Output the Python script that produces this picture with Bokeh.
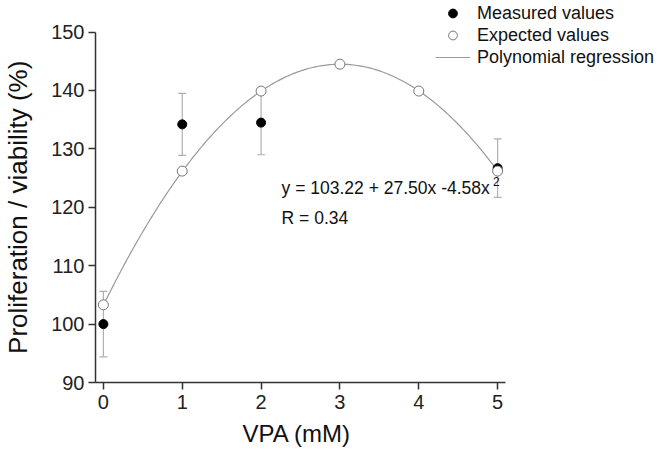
import math
import numpy as np
from bokeh.plotting import figure
from bokeh.models import (ColumnDataSource, Range1d, Whisker, TeeHead, Legend,
                          LegendItem, Label, FixedTicker, Title)
from bokeh.embed import file_html
from bokeh.resources import INLINE

# ---- data ----
measured_x = [0, 1, 2, 5]
measured_y = [100.0, 134.2, 134.5, 126.7]
measured_err = [5.6, 5.3, 5.5, 5.0]

expected_x = [0, 1, 2, 3, 4, 5]
expected_y = [103.3, 126.2, 139.9, 144.5, 139.9, 126.2]

# regression coefficients printed on the chart: y = a + b x + c x^2
reg_coef = [103.22, 27.50, -4.58]
reg_r = 0.34

x_ticks = [0, 1, 2, 3, 4, 5]
y_ticks = [90, 100, 110, 120, 130, 140, 150]
x_axis_bounds = (-0.1, 5.1)
y_axis_bounds = (90, 150)
x_label = "VPA (mM)"
y_label = "Proliferation / viability (%)"

FONT = "Liberation Sans"

# frame spans to the right/top edge so the legend (drawn inside the frame) is not clipped;
# the axis lines are limited with `bounds`
p = figure(width=656, height=456, output_backend="svg", toolbar_location=None,
           x_range=Range1d(-0.1, 7.015), y_range=Range1d(90, 155.41),
           frame_width=561, frame_height=382,
           min_border_left=95, min_border_right=0, min_border_top=0,
           min_border_bottom=70)
p.outline_line_color = None
p.grid.visible = False
p.background_fill_color = "white"

# axes
for ax in (p.xaxis[0], p.yaxis[0]):
    ax.axis_line_width = 1.5
    ax.axis_line_color = "#333333"
    ax.major_tick_line_color = "#333333"
    ax.major_tick_line_width = 1.5
    ax.major_tick_out = 7
    ax.major_tick_in = 0
    ax.minor_tick_line_color = None
    ax.major_label_text_font = FONT
    ax.major_label_text_font_size = "20px"
    ax.major_label_text_color = "#222222"

p.xaxis.bounds = x_axis_bounds
p.yaxis.bounds = y_axis_bounds
p.xaxis.ticker = FixedTicker(ticks=x_ticks)
p.yaxis.ticker = FixedTicker(ticks=y_ticks)
p.xaxis.major_label_standoff = 5
p.yaxis.major_label_standoff = 4

# axis titles centred on the drawn axis lines
xt = Title(text=x_label, align="left", offset=147, standoff=12,
           text_font=FONT, text_font_size="24px", text_font_style="normal",
           text_color="#111111")
p.add_layout(xt, "below")

yt = Label(x=-1, y=sum(y_axis_bounds) / 2, x_units="screen", y_units="data",
           text=y_label, angle=math.pi / 2, text_align="center",
           text_baseline="middle", text_font=FONT, text_font_size="26px",
           text_color="#111111")
p.add_layout(yt, "left")

# regression curve from printed coefficients
xs = np.linspace(0, 5, 201)
ys = reg_coef[0] + reg_coef[1] * xs + reg_coef[2] * xs ** 2
reg = p.line(xs, ys, line_color="#9a9a9a", line_width=1.2)

# error bars for measured values
src_m = ColumnDataSource(dict(
    x=measured_x, y=measured_y,
    upper=[v + e for v, e in zip(measured_y, measured_err)],
    lower=[v - e for v, e in zip(measured_y, measured_err)]))
wh = Whisker(base="x", upper="upper", lower="lower", source=src_m,
             line_color="#b0b0b0", line_width=1.2,
             upper_head=TeeHead(size=8, line_color="#b0b0b0", line_width=1.2),
             lower_head=TeeHead(size=8, line_color="#b0b0b0", line_width=1.2))
p.add_layout(wh)

meas = p.scatter("x", "y", source=src_m, size=9, fill_color="black",
                 line_color="black")
exp_r = p.scatter(expected_x, expected_y, size=10, fill_color="white",
                  line_color="#777777", line_width=1)

legend = Legend(items=[
    LegendItem(label="Measured values", renderers=[meas]),
    LegendItem(label="Expected values", renderers=[exp_r]),
    LegendItem(label="Polynomial regression", renderers=[reg]),
], location=(340, 314))
legend.label_text_font = FONT
legend.label_text_font_size = "18px"
legend.label_text_color = "#111111"
legend.background_fill_alpha = 0
legend.border_line_color = None
legend.padding = 0
legend.margin = 0
legend.spacing = 0
legend.glyph_width = 35
legend.glyph_height = 22
legend.label_height = 22
legend.label_standoff = 7
p.add_layout(legend, "center")

eq = Label(x=2.26, y=123.3, text="y = 103.22 + 27.50x -4.58x",
           text_font=FONT, text_font_size="17.5px", text_color="#111111",
           text_baseline="alphabetic")
sup = Label(x=4.94, y=124.4, text="2", text_font=FONT, text_font_size="12px",
            text_color="#111111", text_baseline="alphabetic")
rl = Label(x=2.26, y=118.1, text=f"R = {reg_r:.2f}", text_font=FONT,
           text_font_size="17.5px", text_color="#111111",
           text_baseline="alphabetic")
for lab in (eq, sup, rl):
    p.add_layout(lab)

open("out.html", "w").write(file_html(p, INLINE))
